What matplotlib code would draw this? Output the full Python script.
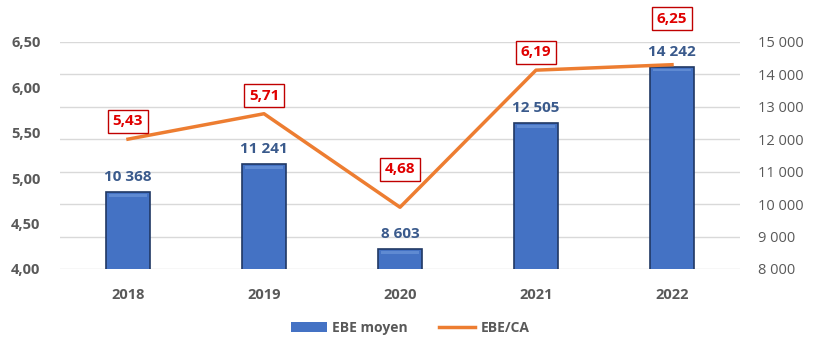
import numpy as np
import matplotlib.pyplot as plt
from matplotlib.patches import Patch
from matplotlib.lines import Line2D

years = ["2018", "2019", "2020", "2021", "2022"]
ebe_moyen = [10368, 11241, 8603, 12505, 14242]
ebe_ca = [5.43, 5.71, 4.68, 6.19, 6.25]

# label offsets above the line points (pixels), the way they sit in the source
line_lbl_dy = [18, 18, 38, 18, 46]

plt.rcParams['font.family'] = ['Open Sans', 'DejaVu Sans']

def fr_thousands(v):
    return "{:,.0f}".format(v).replace(",", " ")

fig = plt.figure(figsize=(8.14, 3.43), dpi=100)
ax = fig.add_axes([60/814, 74/343, 680/814, 227/343])
x = np.arange(len(years))

# bars on the right-hand scale
bars = ax.bar(x, ebe_moyen, width=0.32, color="#4472C4", edgecolor="#203864",
              linewidth=1.2, zorder=2)
ax.set_ylim(8000, 15000)
ax.grid(axis="y", color="#D9D9D9", linewidth=1, zorder=0)
ax.set_axisbelow(True)
ax.set_xlim(-0.5, len(years) - 0.5)
ax.set_xticks(x)
ax.set_xticklabels(years, color="#595959", fontsize=10.5, fontweight="bold")
ax.tick_params(length=0, pad=14)
for s in ax.spines.values():
    s.set_visible(False)

# light top bevel on bars
for b in bars:
    ax.bar(b.get_x() + b.get_width() / 2, 90, width=b.get_width() * 0.86,
           bottom=b.get_height() - 150, color="#5F8AD2", linewidth=0, zorder=3)

for xi, v in zip(x, ebe_moyen):
    ax.annotate(fr_thousands(v), (xi, v), xytext=(0, 15), textcoords="offset pixels",
                ha="center", va="center", fontsize=11, fontweight="bold",
                color="#3A5A8C", zorder=5)

# line on the left-hand scale
ax2 = ax.twinx()
ax2.plot(x, ebe_ca, color="#ED7D31", linewidth=2.5, zorder=4)
ax2.set_ylim(4.0, 6.5)
ax2.set_yticks(np.arange(4.0, 6.51, 0.5))
ax2.yaxis.tick_left()
ax2.set_yticklabels(["{:.2f}".format(v).replace(".", ",") for v in np.arange(4.0, 6.51, 0.5)],
                    color="#595959", fontsize=10.5, fontweight="bold")
ax2.tick_params(length=0, pad=14)
for s in ax2.spines.values():
    s.set_visible(False)

# right-hand ticks for the bars (after twinx, which moves them left)
ax.yaxis.tick_right()
ax.set_yticks(np.arange(8000, 15001, 1000))
ax.set_yticklabels([fr_thousands(v) for v in np.arange(8000, 15001, 1000)],
                   color="#595959", fontsize=10.5)
ax.tick_params(axis="y", length=0, pad=13)

for xi, v, dy in zip(x, ebe_ca, line_lbl_dy):
    ax2.annotate("{:.2f}".format(v).replace(".", ","), (xi, v), xytext=(0, dy),
                 textcoords="offset pixels", ha="center", va="center",
                 fontsize=11, fontweight="bold", color="#E00000",
                 bbox=dict(boxstyle="square,pad=0.3", fc="white", ec="#C00000", lw=1),
                 zorder=6, annotation_clip=False)

handles = [Patch(facecolor="#4472C4", edgecolor="none"),
           Line2D([0], [0], color="#ED7D31", linewidth=2.5)]
fig.legend(handles, ["EBE moyen", "EBE/CA"], loc="center", bbox_to_anchor=(410/814, 1 - 328/343),
           ncol=2, frameon=False, handlelength=2.6, handletextpad=0.4, columnspacing=2.2,
           prop={"weight": "bold", "size": 10}, labelcolor="#595959")

fig.savefig("out.png", dpi=100)
